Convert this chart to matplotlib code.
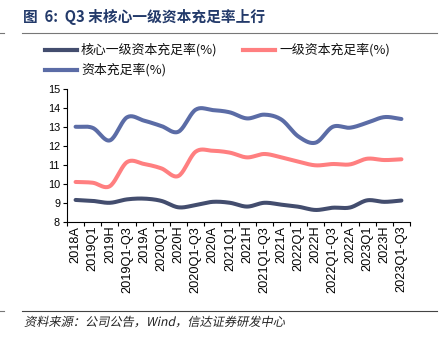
import numpy as np
import matplotlib
matplotlib.use("Agg")
import matplotlib.pyplot as plt
from matplotlib.lines import Line2D
from matplotlib.textpath import TextPath
from matplotlib.patches import PathPatch
from matplotlib.font_manager import FontProperties
from matplotlib.transforms import Affine2D

plt.rcParams['font.family'] = ['Noto Sans CJK SC', 'DejaVu Sans']

categories = ["2018A", "2019Q1", "2019H", "2019Q1-Q3", "2019A", "2020Q1", "2020H",
              "2020Q1-Q3", "2020A", "2021Q1", "2021H", "2021Q1-Q3", "2021A", "2022Q1",
              "2022H", "2022Q1-Q3", "2022A", "2023Q1", "2023H", "2023Q1-Q3"]
core_tier1 = [9.15, 9.10, 9.00, 9.18, 9.22, 9.10, 8.76, 8.88, 9.05, 9.00,
              8.80, 9.00, 8.90, 8.79, 8.62, 8.74, 8.75, 9.13, 9.05, 9.12]
tier1 = [10.10, 10.06, 9.88, 11.15, 11.05, 10.82, 10.42, 11.70, 11.75, 11.65,
         11.40, 11.58, 11.40, 11.17, 10.98, 11.05, 11.03, 11.33, 11.26, 11.30]
total_car = [13.02, 12.96, 12.30, 13.52, 13.34, 13.06, 12.76, 13.92, 13.90, 13.78,
             13.46, 13.66, 13.40, 12.50, 12.18, 13.02, 12.97, 13.23, 13.53, 13.43]
series_names = ["核心一级资本充足率(%)", "一级资本充足率(%)", "资本充足率(%)"]
colors = ["#434d6e", "#ff7f80", "#5b6ca6"]

W, H = 441, 348


def smooth(y, n=20):
    """Catmull-Rom spline through the points (x = 0..len-1)."""
    y = np.asarray(y, float)
    p = np.concatenate([[2 * y[0] - y[1]], y, [2 * y[-1] - y[-2]]])
    xs, ys = [], []
    for i in range(len(y) - 1):
        p0, p1, p2, p3 = p[i], p[i + 1], p[i + 2], p[i + 3]
        t = np.linspace(0, 1, n, endpoint=False)
        yy = 0.5 * ((2 * p1) + (-p0 + p2) * t + (2 * p0 - 5 * p1 + 4 * p2 - p3) * t ** 2
                    + (-p0 + 3 * p1 - 3 * p2 + p3) * t ** 3)
        xs.append(i + t)
        ys.append(yy)
    xs.append([len(y) - 1])
    ys.append([y[-1]])
    return np.concatenate(xs), np.concatenate(ys)


def fx(px):
    return px / W


def fy(py):
    return 1 - py / H


fig = plt.figure(figsize=(4.41, 3.48), dpi=100)
ax = fig.add_axes([fx(67), fy(221.7), (410 - 67) / W, (221.7 - 89.3) / H])

x = np.arange(len(categories))
for vals, c in zip([core_tier1, tier1, total_car], colors):
    sx, sy = smooth(vals)
    ax.plot(sx, sy, color=c, lw=2.9, solid_capstyle='round')

ax.set_xlim(-0.5, len(categories) - 0.5)
ax.set_ylim(8, 15)
ax.set_yticks(range(8, 16))
ax.tick_params(axis='y', labelsize=7.8, length=3, width=0.8, pad=2)
ax.set_xticks(x)
ax.set_xticklabels(categories, rotation=90, fontsize=9.2, family='Liberation Sans')
ax.set_xticks(np.arange(-0.5, len(categories)), minor=True)
ax.tick_params(axis='x', which='major', length=0, pad=3)
ax.tick_params(axis='x', which='minor', length=3, width=0.8)
for lab in ax.get_yticklabels():
    lab.set_family('Liberation Sans')
for s in ['top', 'right']:
    ax.spines[s].set_visible(False)
for s in ['left', 'bottom']:
    ax.spines[s].set_linewidth(0.8)

# legend, laid out in two rows
legend_slots = [(45, 50), (243, 50), (45, 70)]
for (lx, ly), name, c in zip(legend_slots, series_names, colors):
    fig.add_artist(Line2D([fx(lx), fx(lx + 32)], [fy(ly)] * 2, color=c, lw=3))
    fig.text(fx(lx + 36), fy(ly), name, fontsize=9.3, va='center', ha='left',
             color='#111111')

# title and rules
fig.text(fx(23), fy(17), "图  6:  Q3 末核心一级资本充足率上行", fontsize=10.6,
         fontweight='bold', color='#233a6a', va='center', ha='left')
fig.add_artist(Line2D([fx(22), fx(437)], [fy(33)] * 2, color='#777777', lw=0.8))
fig.add_artist(Line2D([0, fx(4)], [fy(33)] * 2, color='#777777', lw=0.8))
fig.add_artist(Line2D([fx(22), fx(437)], [fy(310.5)] * 2, color='#444444', lw=0.8))
fig.add_artist(Line2D([0, fx(4)], [fy(310.5)] * 2, color='#777777', lw=0.8))

# slanted source note, drawn as a sheared text path in pixel units
src = "资料来源：公司公告，Wind，信达证券研发中心"
tp = TextPath((0, 0), src, size=12.2,
              prop=FontProperties(family=['Noto Sans CJK SC', 'DejaVu Sans']))
to_fig = (Affine2D().skew_deg(12, 0).translate(24, H - 326)
          + Affine2D().scale(1 / W, 1 / H) + fig.transFigure)
fig.add_artist(PathPatch(tp, transform=to_fig, facecolor='#222222', edgecolor='none'))

fig.savefig("out.png", dpi=100)
